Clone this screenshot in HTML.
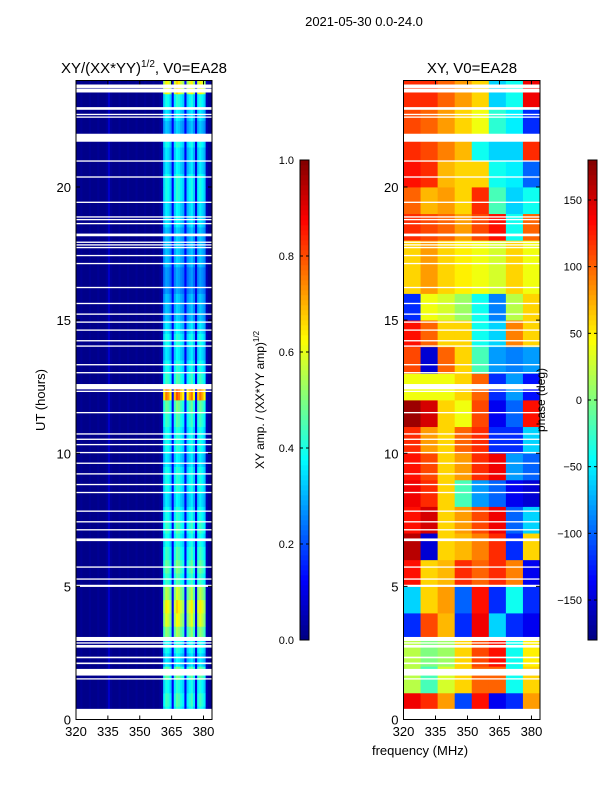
<!DOCTYPE html>
<html><head><meta charset="utf-8"><style>
body{margin:0;background:#fff;}
svg{display:block;font-family:"Liberation Sans",sans-serif;}
</style></head><body>
<svg id="fig" width="600" height="800" viewBox="0 0 600 800">
<text x="364" y="26" font-size="13" text-anchor="middle">2021-05-30 0.0-24.0</text>
<text x="144" y="73" font-size="15" text-anchor="middle">XY/(XX*YY)<tspan font-size="10" dy="-6">1/2</tspan><tspan dy="6">, V0=EA28</tspan></text>
<text x="472" y="73" font-size="15" text-anchor="middle">XY, V0=EA28</text>
<g id="ampPanel"></g>
<g id="phasePanel"></g>
<g id="axes"></g>
<text transform="translate(45,400) rotate(-90)" font-size="13" text-anchor="middle">UT (hours)</text>
<text x="420" y="755" font-size="13" text-anchor="middle">frequency (MHz)</text>
<text transform="translate(264,400) rotate(-90)" font-size="12" text-anchor="middle">XY amp. / (XX*YY amp)<tspan font-size="8" dy="-5">1/2</tspan></text>
<text transform="translate(545,400) rotate(-90)" font-size="12" text-anchor="middle">phase (deg)</text>
</svg>
<script>
const freqs = [];
for (let f = 320; f < 384; f++) freqs.push(f);
const ampProfile = [0.01,0.01,0.02,0.01,0.01,0.01,0.02,0.01,0.01,0.01,0.02,0.01,0.01,0.01,0.02,0.07,0.02,0.01,0.01,0.01,0.02,0.01,0.01,0.01,0.02,0.01,0.01,0.01,0.02,0.01,0.01,0.01,0.02,0.01,0.01,0.01,0.02,0.01,0.01,0.02,0.04,0.34,0.4,0.38,0.33,0.12,0.36,0.42,0.4,0.36,0.33,0.12,0.33,0.37,0.4,0.33,0.1,0.36,0.4,0.37,0.33,0.05,0.02,0.01];
const rowGain = [1,1.1,1.0,1.2,0.9,1.0,1.3,1.5,1.6,1.4,1.1,1.2,1.1,1.0,1.1,1.0,0.9,1.0,1.0,0.9,1.0,1.0,1.1,1.2,1.9,1.1,1.0,0.9,1.0,0.9,0.8,0.8,0.7,0.7,0.8,0.8,0.8,0.9,0.9,1.0,1.0,0.9,0.9,1.0,0.8,0.9,1.0,1.6];
const phaseBands = [320,328,336,344,352,360,368,376];
const phaseGrid = [
[140,120,80,-110,130,-140,-120,80],
[20,-20,30,60,100,100,-40,60],
[20,0,10,60,110,130,-40,50],
[-120,110,70,-120,140,-60,-120,-140],
[-60,60,80,-100,130,-120,-40,-120],
[130,60,70,120,100,120,90,-140],
[160,-150,60,70,90,120,-120,60],
[130,150,60,80,110,140,-100,-60],
[140,120,60,-20,-80,-100,-140,-150],
[130,110,60,80,120,140,-80,-100],
[120,80,60,100,120,-120,-120,-60],
[170,150,60,40,110,-140,-100,130],
[40,40,40,60,100,-120,-80,-130],
[110,-150,100,60,-20,-80,-90,-80],
[130,100,60,60,-40,-60,90,60],
[-120,40,30,10,-40,-90,20,60],
[60,80,60,50,40,30,60,40],
[60,80,60,50,40,30,60,40],
[120,110,100,80,110,130,-40,100],
[100,70,80,60,120,-20,-60,-40],
[130,120,70,60,60,-40,-50,-100],
[120,110,90,70,-40,-60,-60,120],
[110,100,80,60,40,-30,-50,-120],
[120,120,100,80,60,-60,-40,140]];
const flagStart = [0,1.5,1.65,2.08,2.3,2.7,2.85,2.95,4.98,5.25,5.7,6.7,7.1,7.4,7.8,8.5,8.8,9.2,9.6,10.0,10.3,10.5,10.7,11.5,12.3,12.4,13.0,13.3,14.0,14.2,14.6,14.9,15.2,15.6,16.2,17.1,17.4,17.7,17.8,17.9,18.15,18.6,18.75,18.85,19.4,20.35,20.95,21.7,22.6,22.7,22.9,23.55,23.72];
const flagEnd   = [0.4,1.55,1.9,2.14,2.36,2.8,2.9,3.1,5.06,5.3,5.75,6.8,7.15,7.45,7.85,8.55,8.85,9.25,9.65,10.05,10.35,10.55,10.75,11.55,12.35,12.6,13.05,13.35,14.05,14.25,14.65,14.95,15.25,15.65,16.25,17.15,17.45,17.75,17.85,17.95,18.25,18.65,18.8,18.9,19.45,20.4,21.0,22.0,22.65,22.75,23.0,23.7,23.85];
const yTicks = [0,5,10,15,20];
const xTicks = [320,335,350,365,380];
const ampTicks = [0.0,0.2,0.4,0.6,0.8,1.0];
const phaseTicks = [-150,-100,-50,0,50,100,150];

const NS = "http://www.w3.org/2000/svg";
function jet(v){v=Math.max(0,Math.min(1,v));
 const r=Math.max(0,Math.min(1,1.5-Math.abs(4*v-3)));
 const g=Math.max(0,Math.min(1,1.5-Math.abs(4*v-2)));
 const b=Math.max(0,Math.min(1,1.5-Math.abs(4*v-1)));
 return `rgb(${Math.round(r*255)},${Math.round(g*255)},${Math.round(b*255)})`;}
function mk(tag,attrs,parent){const e=document.createElementNS(NS,tag);for(const k in attrs)e.setAttribute(k,attrs[k]);parent.appendChild(e);return e;}
const Y0=719.5,Y1=80.5;
function yS(h){return Y0-(h/24)*(Y0-Y1);}
function xS(x0,x1){return f=>x0+(f-320)/64*(x1-x0);}
const panels=[{x0:76,x1:212},{x0:403.5,x1:540}];
const xa=xS(76,212), xp=xS(403.5,540);

const ampG=document.getElementById('ampPanel');
for(let r=0;r<rowGain.length;r++){
 for(let c=0;c<freqs.length;c++){
  const p=ampProfile[c]; const v=p>0.2?p*rowGain[r]:p;
  const x=xa(freqs[c]), w=xa(freqs[c]+1)-x;
  const y=yS((r+1)*0.5), h=yS(r*0.5)-y;
  const el=mk('rect',{x:x,y:y,width:w+0.4,height:h+0.4,fill:jet(v)},ampG);
  
  
 }}
const phG=document.getElementById('phasePanel');
for(let r=0;r<phaseGrid.length;r++){
 for(let c=0;c<phaseBands.length;c++){
  const x=xp(phaseBands[c]), w=xp(phaseBands[c]+8)-x;
  const y=yS(r+1), h=yS(r)-y;
  const el=mk('rect',{x:x,y:y,width:w+0.4,height:h+0.4,fill:jet((phaseGrid[r][c]+180)/360)},phG);
  
  
 }}
const ax=document.getElementById('axes');
panels.forEach(P=>{
 for(let i=0;i<flagStart.length;i++){
  const y=yS(flagEnd[i]),h=yS(flagStart[i])-y;
  const el=mk('rect',{x:P.x0,y:y,width:P.x1-P.x0,height:Math.max(1.2,h),fill:'#fff'},ax);
  
  
 }
 const fr=mk('rect',{x:P.x0,y:Y1,width:P.x1-P.x0,height:Y0-Y1,fill:'none',stroke:'#000','stroke-width':1},ax);
 
 
 const sx=xS(P.x0,P.x1);
 xTicks.forEach(t=>{const x=sx(t);
  mk('line',{x1:x,x2:x,y1:Y0,y2:Y0-4,stroke:'#000'},ax);
  mk('line',{x1:x,x2:x,y1:Y1,y2:Y1+4,stroke:'#000'},ax);
  const tx=mk('text',{x:x,y:736,'font-size':13,'text-anchor':'middle'},ax);tx.textContent=t;
  
  
 });
 yTicks.forEach(t=>{const y=yS(t);
  mk('line',{x1:P.x0,x2:P.x0+4,y1:y,y2:y,stroke:'#000'},ax);
  mk('line',{x1:P.x1,x2:P.x1-4,y1:y,y2:y,stroke:'#000'},ax);
  const tx=mk('text',{x:P.x0-5,y:y+5,'font-size':13,'text-anchor':'end'},ax);tx.textContent=t;
  
  
 });
});
function colorbar(x,ticks,vmin,vmax,fmt,name){
 const top=160,bot=640,w=9;
 for(let i=0;i<96;i++){
  const el=mk('rect',{x:x,y:bot-(i+1)*5,width:w,height:5.3,fill:jet(i/96+1/192)},ax);
  
  
 }
 const fr=mk('rect',{x:x,y:top,width:w,height:bot-top,fill:'none',stroke:'#000','stroke-width':1},ax);
 
 
 ticks.forEach(t=>{const y=bot-(t-vmin)/(vmax-vmin)*(bot-top);
  mk('line',{x1:x,x2:x+3,y1:y,y2:y,stroke:'#000'},ax);
  mk('line',{x1:x+w,x2:x+w-3,y1:y,y2:y,stroke:'#000'},ax);
  const tx=mk('text',{x:x-6,y:y+4,'font-size':11,'text-anchor':'end'},ax);tx.textContent=fmt(t);
  
  
 });
}
colorbar(300,ampTicks,0,1,t=>t.toFixed(1),'amp-colorbar');
colorbar(588,phaseTicks,-180,180,t=>String(t).replace('-','\u2212'),'phase-colorbar');
</script>
</body></html>
